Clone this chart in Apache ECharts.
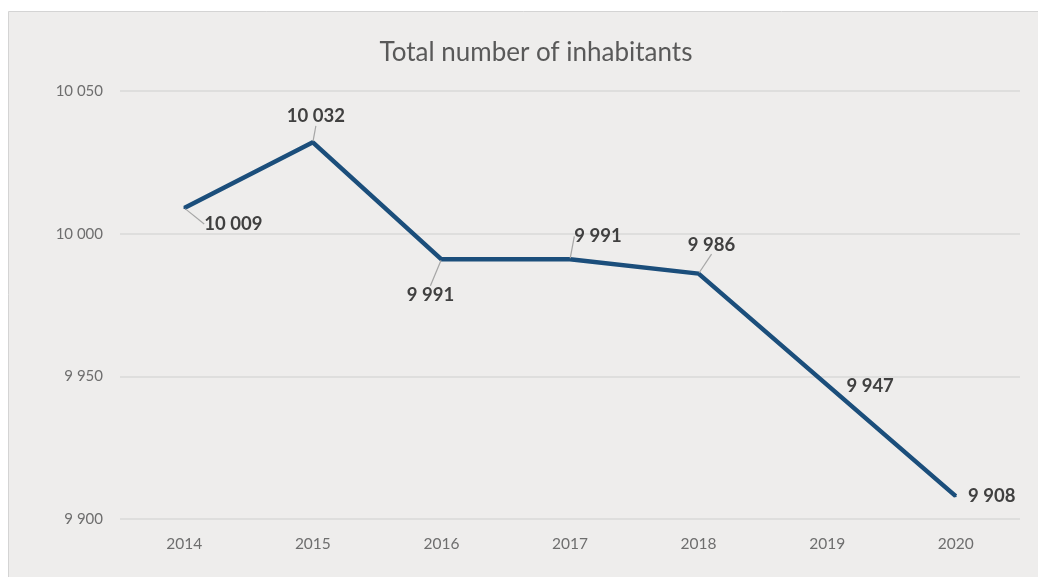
<!DOCTYPE html>
<html>
<head>
<meta charset="utf-8">
<script src="https://cdn.jsdelivr.net/npm/echarts@6/dist/echarts.min.js"></script>
<style>
html,body{margin:0;padding:0;background:#ffffff;}
#chart{width:1038px;height:577px;}
</style>
</head>
<body>
<div id="chart"></div>
<script>
const title = 'Total number of inhabitants';
const years = ['2014', '2015', '2016', '2017', '2018', '2019', '2020'];
const inhabitants = [10009, 10032, 9991, 9991, 9986, 9947, 9908];
const yTicks = { min: 9900, max: 10050, interval: 50 };

// label offsets from each point (dx, dy) and whether a leader line is drawn
const labelDx = [49, 3, -11, 28, 13, 43, 36];
const labelDy = [16, -26, 36, -23, -29, 1, 0];
const labelLeader = [true, true, true, true, true, false, false];

function fmt(v) {
  return String(v).replace(/\B(?=(\d{3})+(?!\d))/g, ' ');
}

const chart = echarts.init(document.getElementById('chart'), null, { renderer: 'canvas' });
chart.setOption({
  animation: false,
  backgroundColor: '#ffffff',
  graphic: [{
    type: 'rect',
    z: -10,
    shape: { x: 8.5, y: 11.5, width: 1040, height: 580 },
    style: { fill: '#eeedec', stroke: '#d4d4d4', lineWidth: 1 }
  }],
  title: {
    text: title,
    left: 531,
    textAlign: 'center',
    top: 35,
    textStyle: { fontFamily: 'Lato', fontWeight: 'normal', fontSize: 26, color: '#595959' }
  },
  grid: { left: 120, right: 18, top: 91, bottom: 58, containLabel: false },
  xAxis: {
    type: 'category',
    data: years,
    boundaryGap: true,
    axisLine: { show: false },
    axisTick: { show: false },
    axisLabel: { fontFamily: 'Lato', fontSize: 15.5, color: '#6e6e6e', margin: 17 }
  },
  yAxis: {
    type: 'value',
    min: yTicks.min,
    max: yTicks.max,
    interval: yTicks.interval,
    axisLine: { show: false },
    axisTick: { show: false },
    splitLine: { lineStyle: { color: '#d9d9d9', width: 1.5 } },
    axisLabel: {
      fontFamily: 'Lato', fontSize: 15, color: '#6e6e6e', margin: 17,
      formatter: v => fmt(v)
    }
  },
  series: [{
    type: 'line',
    data: inhabitants.map((v, i) => ({
      value: v,
      labelLine: { show: labelLeader[i] }
    })),
    symbol: 'circle',
    symbolSize: 2,
    showSymbol: true,
    lineStyle: { color: '#1b4e7b', width: 4.5 },
    itemStyle: { color: '#1b4e7b' },
    label: {
      show: true,
      position: 'inside',
      formatter: p => fmt(p.value),
      fontFamily: 'Lato',
      fontWeight: 'bold',
      fontSize: 18.5,
      color: '#404040'
    },
    labelLine: { show: true, lineStyle: { color: '#a6a6a6', width: 1.2 } },
    labelLayout: p => ({ dx: labelDx[p.dataIndex], dy: labelDy[p.dataIndex] })
  }]
});
</script>
</body>
</html>
